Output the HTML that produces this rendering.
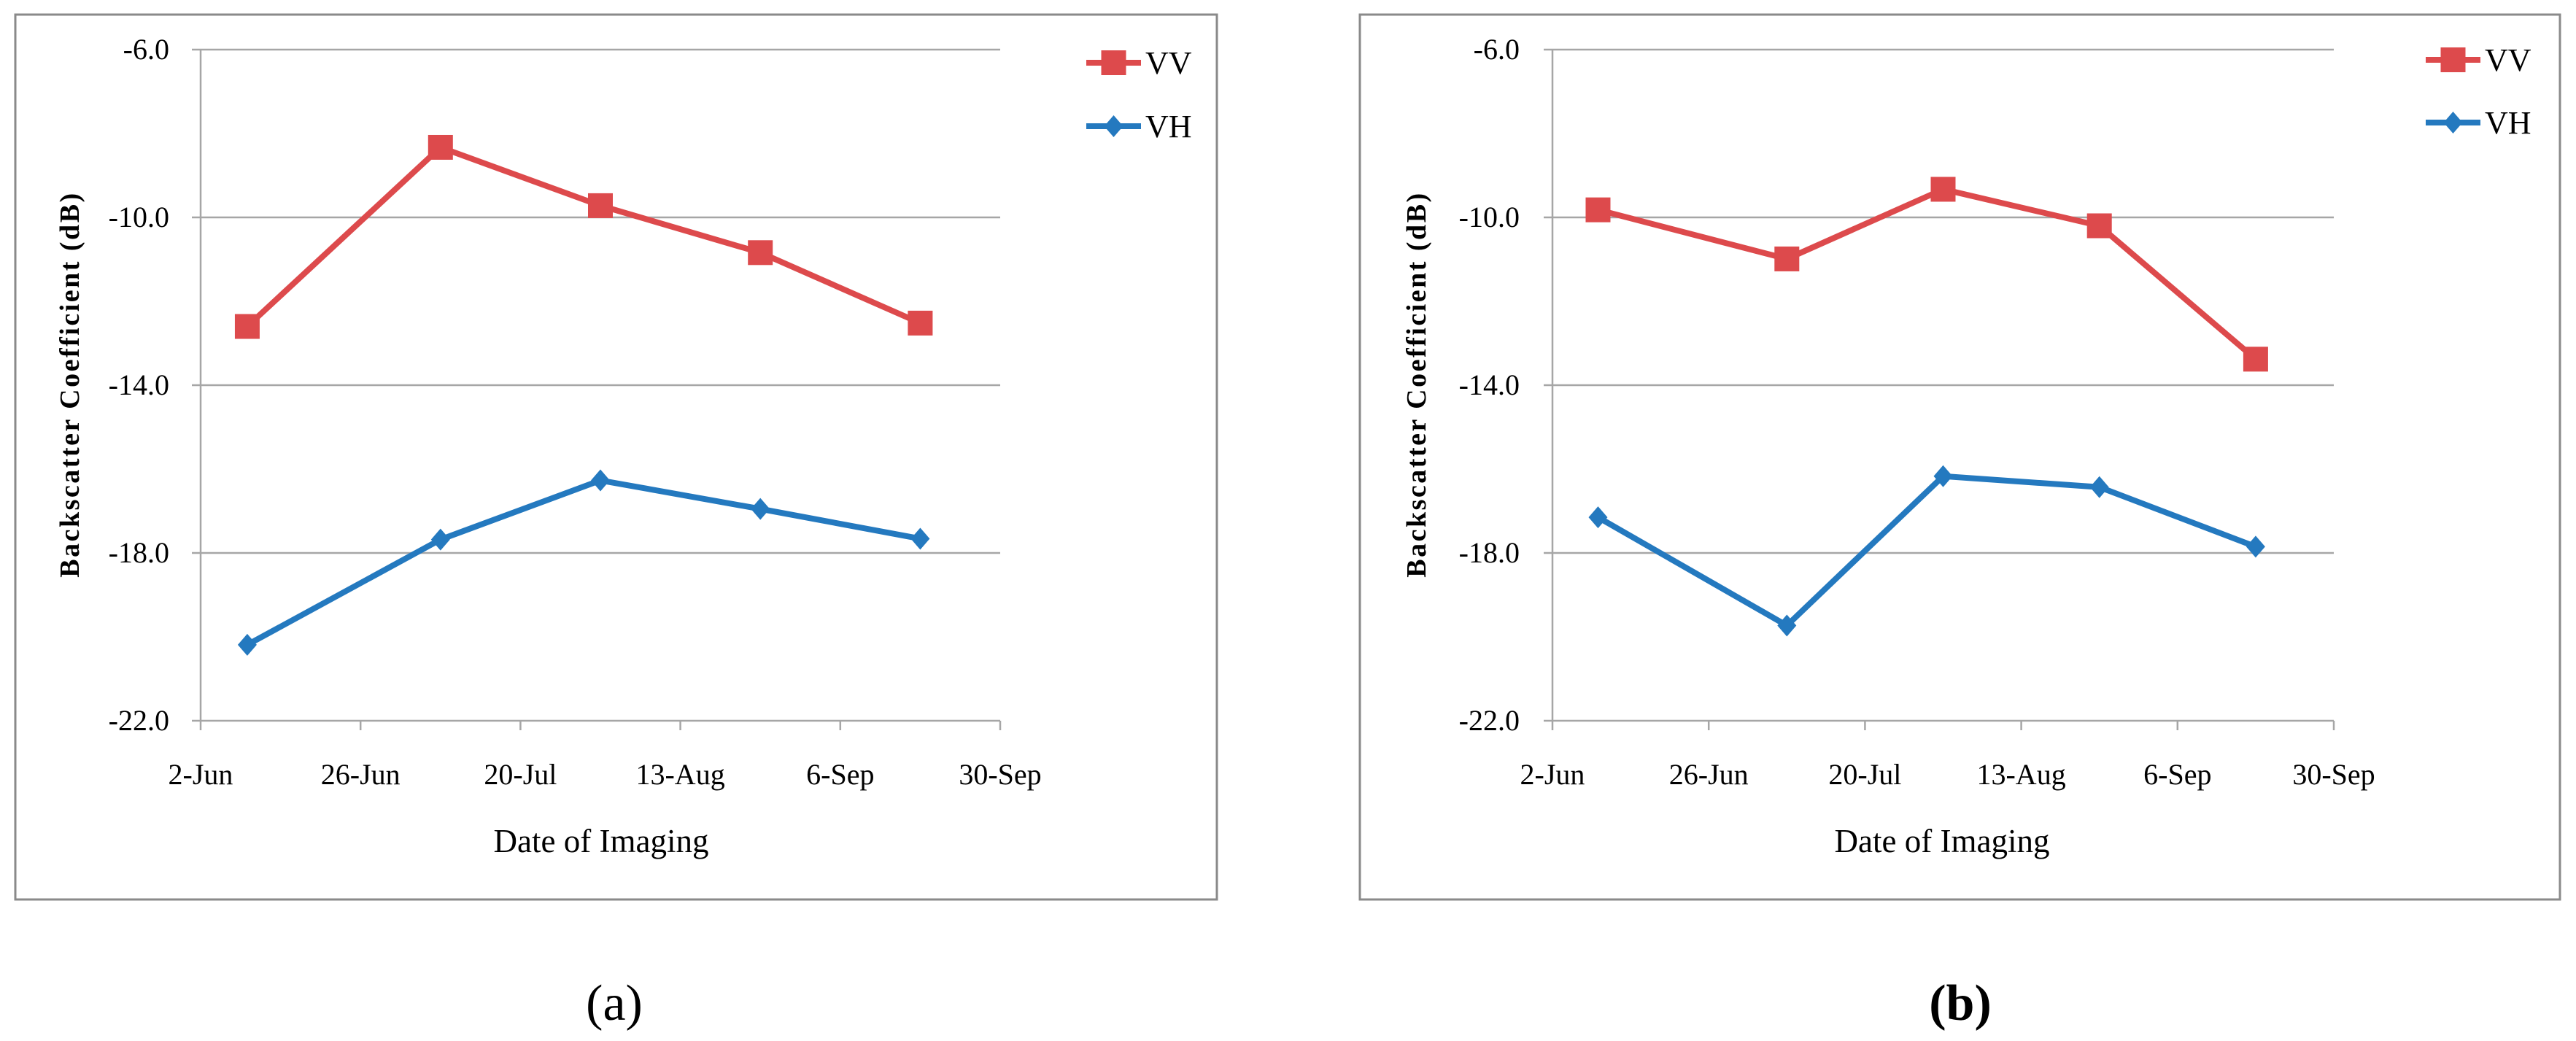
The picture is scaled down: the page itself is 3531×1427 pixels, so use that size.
<!DOCTYPE html>
<html><head><meta charset="utf-8"><style>
html,body{margin:0;padding:0;background:#fff;}
svg{display:block;}
text{font-family:"Liberation Serif",serif;fill:#000;}
</style></head><body>
<svg id="root" width="3531" height="1427" viewBox="0 0 3531 1427" xmlns="http://www.w3.org/2000/svg"></svg>
<script>
// shared data
const dayOffsets = [7, 36, 60, 84, 108]; // days since 2-Jun
const xTickLabels = ["2-Jun","26-Jun","20-Jul","13-Aug","6-Sep","30-Sep"];
const xTickDays = [0,24,48,72,96,120];
const yTickValues = [-6,-10,-14,-18,-22];
const yTickLabels = ["-6.0","-10.0","-14.0","-18.0","-22.0"];
// panel (a)
const vvA = [-12.6, -8.33, -9.72, -10.84, -12.52];
const vhA = [-20.19, -17.68, -16.27, -16.95, -17.66];
// panel (b)
const vvB = [-9.82, -10.99, -9.33, -10.2, -13.38];
const vhB = [-17.15, -19.73, -16.17, -16.43, -17.85];

const NS = "http://www.w3.org/2000/svg";
const root = document.getElementById('root');
function mk(tag, attrs, parent){
  const e = document.createElementNS(NS, tag);
  for (const k in attrs) e.setAttribute(k, attrs[k]);
  (parent||root).appendChild(e);
  return e;
}
const RED = "#dd4a4c", BLUE = "#2479bf";

function panel(cfg, vv, vh, tag){
  const g = mk('g', {});
  
  
  const fr = mk('rect', {x:cfg.fx0, y:20, width:cfg.fx1-cfg.fx0, height:1213, fill:'none', stroke:'#8a8a8a', 'stroke-width':3}, g);
  
  
  const x0 = cfg.x0, x1 = cfg.x1, yT = 68, yB = 988;
  const xs = d => x0 + (d/120)*(x1-x0);
  const ys = v => yT + ((-6 - v)/16)*(yB-yT);
  yTickValues.forEach((v,i)=>{
    const y = ys(v);
    const l = mk('line', {x1:x0-12, x2:x1, y1:y, y2:y, stroke:'#a6a6a6', 'stroke-width':2.5}, g);
    
    
    const t = mk('text', {x:cfg.ylx, y:y+13, 'text-anchor':'end', 'font-size':40}, g);
    t.textContent = yTickLabels[i];
    
    
  });
  const ax = mk('line', {x1:x0, x2:x0, y1:yT, y2:yB, stroke:'#a6a6a6', 'stroke-width':2.5}, g);
  
  
  xTickDays.forEach((d,i)=>{
    const x = xs(d);
    const tk = mk('line', {x1:x, x2:x, y1:yB, y2:yB+13, stroke:'#a6a6a6', 'stroke-width':2.5}, g);
    
    
    const t = mk('text', {x:x, y:1075, 'text-anchor':'middle', 'font-size':40}, g);
    t.textContent = xTickLabels[i];
    
    
  });
  const xt = mk('text', {x:cfg.xtx, y:1168, 'text-anchor':'middle', 'font-size':45}, g);
  xt.textContent = "Date of Imaging";
  
  
  const yt = mk('text', {x:0, y:0, 'text-anchor':'middle', 'font-size':38, 'font-weight':'bold', 'letter-spacing':'2.5', transform:`translate(${cfg.ytx},527) rotate(-90)`}, g);
  yt.textContent = "Backscatter Coefficient (dB)";
  
  
  function series(vals, color, shape, name){
    const pts = vals.map((v,i)=>xs(dayOffsets[i])+','+ys(v)).join(' ');
    const pl = mk('polyline', {points:pts, fill:'none', stroke:color, 'stroke-width':8, 'stroke-linejoin':'round'}, g);
    
    
    vals.forEach((v,i)=>{
      const cx = xs(dayOffsets[i]), cy = ys(v);
      let m;
      if (shape==='square') m = mk('rect', {x:cx-17, y:cy-17, width:34, height:34, fill:color}, g);
      else m = mk('polygon', {points:`${cx},${cy-15} ${cx+13},${cy} ${cx},${cy+15} ${cx-13},${cy}`, fill:color}, g);
      
      
    });
  }
  series(vv, RED, 'square', 'vv');
  series(vh, BLUE, 'diamond', 'vh');
  [[RED,'square','VV',cfg.legY1],[BLUE,'diamond','VH',cfg.legY2]].forEach(([c,s,lab,y])=>{
    const lg = mk('g', {}, g);
    
    
    mk('line', {x1:cfg.lx0, x2:cfg.lx1, y1:y, y2:y, stroke:c, 'stroke-width':8}, lg);
    const mx = (cfg.lx0+cfg.lx1)/2;
    if (s==='square') mk('rect', {x:mx-17, y:y-17, width:34, height:34, fill:c}, lg);
    else mk('polygon', {points:`${mx},${y-15} ${mx+13},${y} ${mx},${y+15} ${mx-13},${y}`, fill:c}, lg);
    const t = mk('text', {x:cfg.lx1+6, y:y+15, 'font-size':44}, lg);
    t.textContent = lab;
  });
  const cap = mk('text', {x:cfg.capx, y:1398, 'text-anchor':'middle', 'font-size':70}, g);
  cap.textContent = tag==='a' ? '(a)' : '(b)';
  if (tag==='b') cap.setAttribute('font-weight','bold');
  
  
}
panel({fx0:21, fx1:1668, x0:275, x1:1371, ylx:232, xtx:824, ytx:108, legY1:86, legY2:173, lx0:1489, lx1:1564, capx:842}, vvA, vhA, 'a');
panel({fx0:1864, fx1:3509, x0:2128, x1:3199, ylx:2083, xtx:2662, ytx:1954, legY1:82, legY2:168, lx0:3325, lx1:3400, capx:2687}, vvB, vhB, 'b');
</script>
</body></html>
